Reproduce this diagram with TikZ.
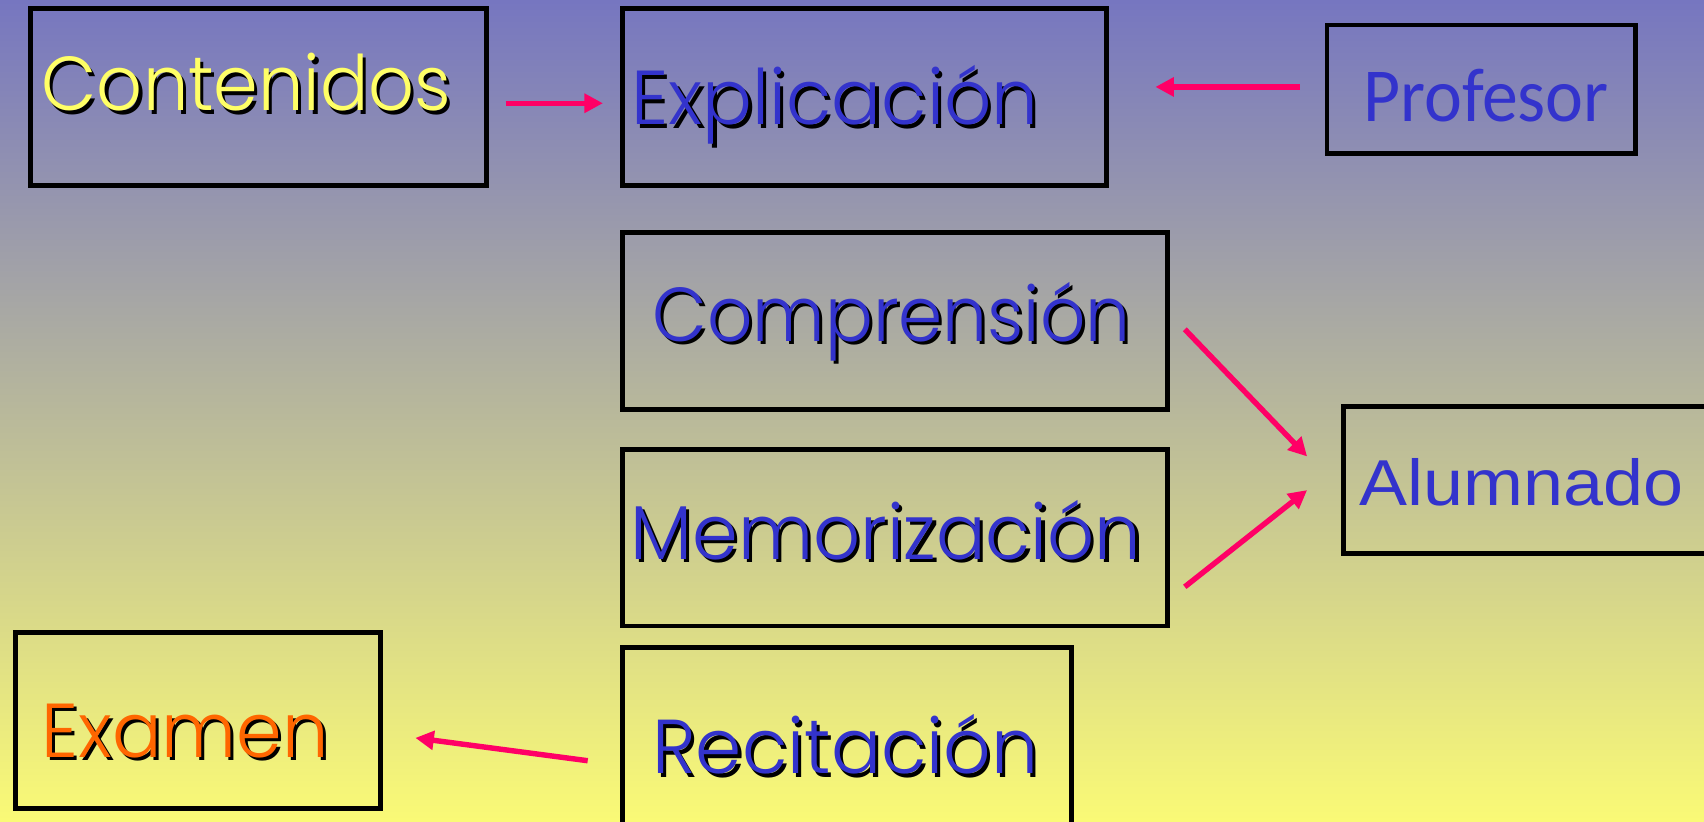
\documentclass[tikz,border=0pt]{standalone}
\usepackage{fontspec}
\setmainfont{Poppins Light}
\newfontfamily\profont{Carlito}
\newfontfamily\alumfont{Liberation Sans}
\usetikzlibrary{arrows.meta}

\newlength\unitpx
\setlength\unitpx{0.02cm}

\definecolor{bgtop}{RGB}{118,118,192}
\definecolor{bgbot}{RGB}{250,250,118}
\definecolor{txtblue}{RGB}{51,51,204}
\definecolor{txtyellow}{RGB}{255,255,102}
\definecolor{txtorange}{RGB}{255,102,0}
\definecolor{arrowred}{RGB}{255,0,102}

% text with a black drop shadow, squeezed to a given width
\newcommand\shadowlbl[3]{\resizebox{#2\unitpx}{\height}{\makebox[0pt][l]{\hspace{3\unitpx}\raisebox{-3\unitpx}{\color{black}#3}}\color{#1}#3}}
\newcommand\plainlbl[3]{\resizebox{#2\unitpx}{\height}{\color{#1}#3}}

\begin{document}
\begin{tikzpicture}[x=0.02cm, y=-0.02cm,
    box/.style={draw, line width=0.09cm, inner sep=0pt},
    lbl/.style={anchor=base west, inner sep=0pt, font=\fontsize{40}{48}\selectfont},
    conn/.style={arrowred, line width=0.1cm, -{Triangle[length=0.34cm, width=0.34cm]}}]
  \useasboundingbox (0,0) rectangle (1568,755.5);
  \shade[top color=bgtop, bottom color=bgbot] (0,0) rectangle (1568,755.5);

  % boxes
  \node[box, minimum width=8.4cm, minimum height=3.26cm] (cont) at (238,89.5) {};
  \node[box, minimum width=8.9cm, minimum height=3.26cm] (expl) at (795.5,89.5) {};
  \node[box, minimum width=5.68cm, minimum height=2.36cm] (prof) at (1363,82) {};
  \node[box, minimum width=10.02cm, minimum height=3.26cm] (comp) at (823.5,295.5) {};
  \node[box, minimum width=10.02cm, minimum height=3.24cm] (memo) at (823.5,495) {};
  \node[box, minimum width=8.26cm, minimum height=4.08cm] (reci) at (779.5,698) {};
  \node[box, minimum width=6.72cm, minimum height=3.24cm] (exam) at (182,663) {};
  \node[box, minimum width=7.28cm, minimum height=2.7cm] (alum) at (1418,441.5) {};

  % labels
  \node[lbl] (contT) at (38,102) {\shadowlbl{txtyellow}{377}{Contenidos}};
  \node[lbl] (explT) at (581,115) {\shadowlbl{txtblue}{374}{Explicación}};
  \node[lbl, font=\profont\fontsize{40}{48}\selectfont] (profT) at (1254,112) {\plainlbl{txtblue}{226}{Profesor}};
  \node[lbl] (compT) at (600,314) {\shadowlbl{txtblue}{440}{Comprensión}};
  \node[lbl] (memoT) at (580,515) {\shadowlbl{txtblue}{470}{Memorización}};
  \node[lbl] (reciT) at (600,712) {\shadowlbl{txtblue}{355}{Recitación}};
  \node[lbl] (examT) at (38,697) {\shadowlbl{txtorange}{264}{Examen}};
  \node[lbl, font=\alumfont\fontsize{34}{41}\selectfont] (alumT) at (1251,464.7) {\plainlbl{txtblue}{298}{Alumnado}};

  % arrows
  \draw[conn] ([shift={(15,5.5)}]cont.east) -- ([shift={(-16,5.5)}]expl.west);
  \draw[conn] ([shift={(-23,-2)}]prof.west) -- ([shift={(43,-9.5)}]expl.east);
  \draw[conn] ([shift={(14,7.5)}]comp.east) -- ([shift={(-31,-21.5)}]alum.west);
  \draw[conn] ([shift={(14,45)}]memo.east) -- ([shift={(-31,9.5)}]alum.west);
  \draw[conn] ([shift={(-30,2)}]reci.west) -- ([shift={(30,16)}]exam.east);
\end{tikzpicture}
\end{document}
